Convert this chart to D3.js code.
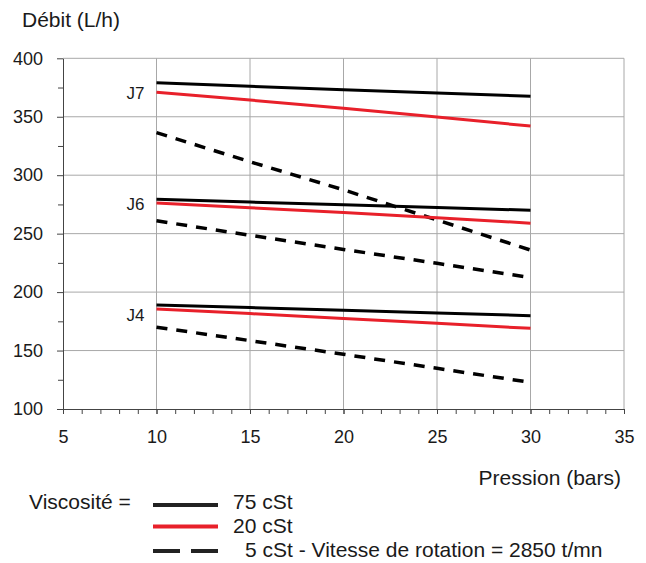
<!DOCTYPE html>
<html>
<head>
<meta charset="utf-8">
<script src="https://cdn.jsdelivr.net/npm/d3@7"></script>
<style>
  body { margin: 0; background: #fff; }
  svg { font-family: "Liberation Sans", Arial, sans-serif; }
</style>
</head>
<body>
<svg class="chart" width="646" height="563"></svg>
<script>
// pression (bars)
var pressure = [10, 15, 20, 25, 30];

// debit (L/h) per pump and viscosity
var j7_75 = [379, 376, 373.2, 370.3, 367.5];
var j7_20 = [371, 364.3, 357.3, 349.8, 342];
var j7_5  = [336.4, 311.5, 287.5, 261.7, 236];
var j6_75 = [279.4, 277, 274.8, 272.4, 270];
var j6_20 = [276.2, 272.2, 268, 263.6, 259];
var j6_5  = [261, 248.6, 236.5, 224.6, 212.5];
var j4_75 = [189, 186.8, 184.5, 182.2, 179.8];
var j4_20 = [185.5, 181.6, 177.5, 173.3, 169];
var j4_5  = [170, 158.5, 146.8, 134.8, 122.8];

var pumps = ["J7", "J6", "J4"];
var pumpLabelAt = [370, 275, 180];
var viscLabels = ["75 cSt", "20 cSt", "5 cSt - Vitesse de rotation = 2850 t/mn"];

var xTicks = [5, 10, 15, 20, 25, 30, 35];
var yTicks = [100, 150, 200, 250, 300, 350, 400];

var series = [
  {pump: 0, visc: 0, values: j7_75}, {pump: 0, visc: 1, values: j7_20}, {pump: 0, visc: 2, values: j7_5},
  {pump: 1, visc: 0, values: j6_75}, {pump: 1, visc: 1, values: j6_20}, {pump: 1, visc: 2, values: j6_5},
  {pump: 2, visc: 0, values: j4_75}, {pump: 2, visc: 1, values: j4_20}, {pump: 2, visc: 2, values: j4_5}
];

var colors = ["#000000", "#e8202a", "#000000"];
var dashes = [null, null, "11,9"];

var svg = d3.select(".chart");
var plotLeft = 63, plotTop = 58.3, plotRight = 624, plotBottom = 409;

var x = d3.scaleLinear().domain([5, 35]).range([plotLeft, plotRight]);
var y = d3.scaleLinear().domain([100, 400]).range([plotBottom, plotTop]);

// grid
svg.append("g").selectAll("line")
  .data(xTicks.slice(1))
  .enter().append("line")
  .attr("x1", function(d) { return x(d); })
  .attr("x2", function(d) { return x(d); })
  .attr("y1", plotTop).attr("y2", plotBottom)
  .attr("stroke", "#a8a8a8").attr("stroke-width", 1);

svg.append("g").selectAll("line")
  .data(yTicks.slice(1))
  .enter().append("line")
  .attr("x1", plotLeft).attr("x2", plotRight)
  .attr("y1", function(d) { return y(d); })
  .attr("y2", function(d) { return y(d); })
  .attr("stroke", "#a8a8a8").attr("stroke-width", 1);

// minor ticks
svg.append("g")
  .attr("transform", "translate(0," + plotBottom + ")")
  .call(d3.axisBottom(x).tickValues(d3.range(5, 36, 1)).tickSize(5).tickFormat(""))
  .call(function(g) { g.select(".domain").remove(); })
  .selectAll("line").attr("stroke", "#444");

svg.append("g")
  .attr("transform", "translate(" + plotLeft + ",0)")
  .call(d3.axisLeft(y).tickValues(d3.range(125, 400, 50)).tickSize(5).tickFormat(""))
  .call(function(g) { g.select(".domain").remove(); })
  .selectAll("line").attr("stroke", "#444");

// main axes
var xAxis = svg.append("g")
  .attr("transform", "translate(0," + plotBottom + ")")
  .call(d3.axisBottom(x).tickValues(xTicks).tickSize(5).tickPadding(16).tickSizeOuter(0));
var yAxis = svg.append("g")
  .attr("transform", "translate(" + plotLeft + ",0)")
  .call(d3.axisLeft(y).tickValues(yTicks).tickSize(6).tickPadding(14).tickSizeOuter(0));

[xAxis, yAxis].forEach(function(g) {
  g.select(".domain").attr("stroke", "#444");
  g.selectAll("line").attr("stroke", "#444");
  g.selectAll("text")
    .attr("font-family", "Liberation Sans, Arial, sans-serif")
    .attr("font-size", "18px")
    .attr("fill", "#1a1a1a");
});

// data lines
var line = d3.line()
  .x(function(d, i) { return x(pressure[i]); })
  .y(function(d) { return y(d); });

svg.append("g").selectAll("path")
  .data(series)
  .enter().append("path")
  .attr("d", function(d) { return line(d.values); })
  .attr("fill", "none")
  .attr("stroke", function(d) { return colors[d.visc]; })
  .attr("stroke-width", function(d) { return d.visc == 2 ? 3.5 : 3; })
  .attr("stroke-dasharray", function(d) { return dashes[d.visc]; });

// pump labels
svg.append("g").selectAll("text")
  .data(pumps)
  .enter().append("text")
  .text(function(d) { return d; })
  .attr("x", x(10) - 12)
  .attr("y", function(d, i) { return y(pumpLabelAt[i]); })
  .attr("dy", "0.35em")
  .attr("text-anchor", "end")
  .attr("font-size", "17px")
  .attr("fill", "#1a1a1a");

// axis titles
svg.append("text")
  .text("Débit (L/h)")
  .attr("x", 22).attr("y", 27)
  .attr("font-size", "21px")
  .attr("fill", "#1a1a1a");

svg.append("text")
  .text("Pression (bars)")
  .attr("x", 621).attr("y", 485)
  .attr("text-anchor", "end")
  .attr("font-size", "21px")
  .attr("fill", "#1a1a1a");

// legend
var legend = svg.append("g").style("font-size", "21px");

legend.append("text")
  .text("Viscosité =")
  .attr("x", 29).attr("y", 509)
  .attr("fill", "#1a1a1a");

var legY = [505, 526.5, 551];
var legTextY = [509, 533, 557];
var legTextX = [233, 233, 245];

legend.selectAll("line")
  .data(viscLabels)
  .enter().append("line")
  .attr("x1", 153).attr("x2", 218)
  .attr("y1", function(d, i) { return legY[i]; })
  .attr("y2", function(d, i) { return legY[i]; })
  .attr("stroke", function(d, i) { return i == 1 ? colors[1] : "#222"; })
  .attr("stroke-width", 4)
  .attr("stroke-dasharray", function(d, i) { return i == 2 ? "27,11" : null; });

legend.selectAll("text.lab")
  .data(viscLabels)
  .enter().append("text")
  .attr("class", "lab")
  .text(function(d) { return d; })
  .attr("x", function(d, i) { return legTextX[i]; })
  .attr("y", function(d, i) { return legTextY[i]; })
  .attr("fill", "#1a1a1a");
</script>
</body>
</html>
